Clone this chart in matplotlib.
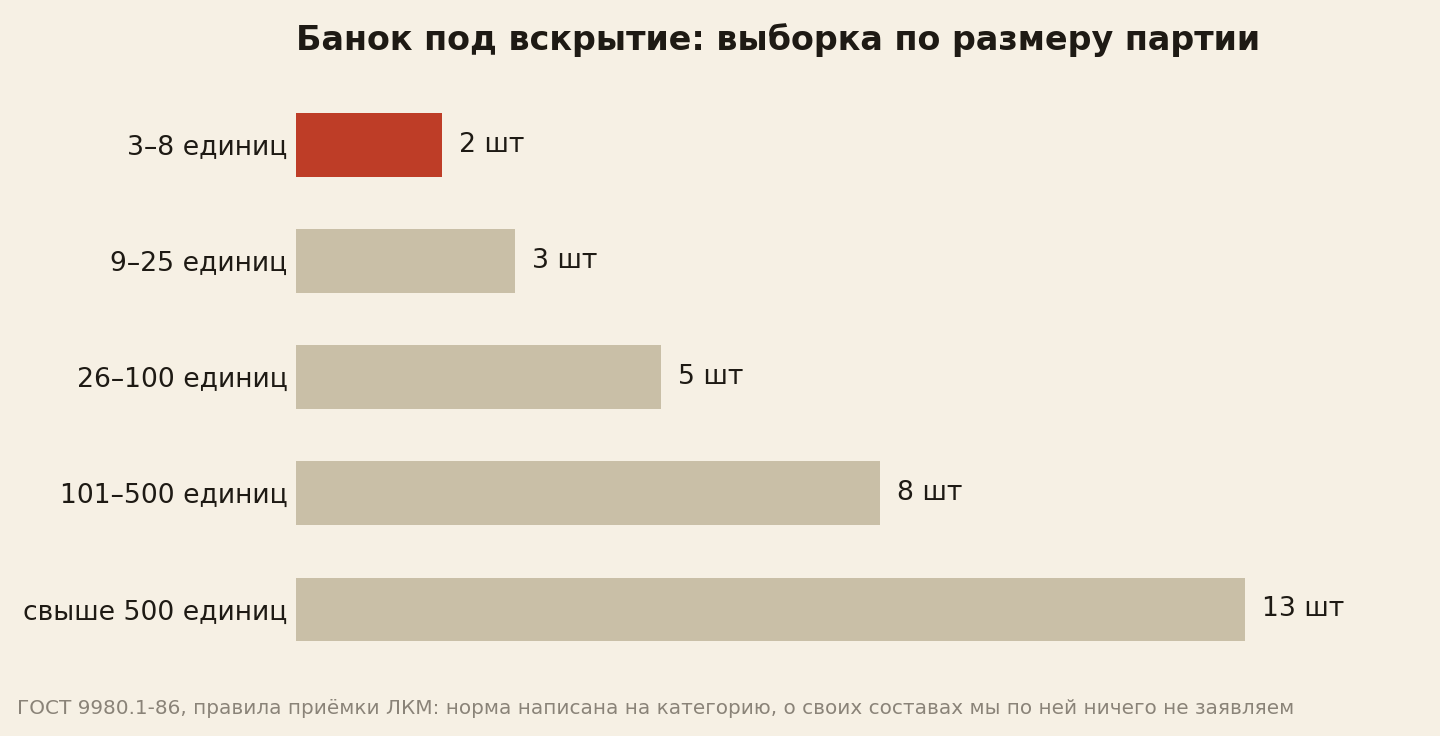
import matplotlib.pyplot as plt

categories = ["3–8 единиц", "9–25 единиц", "26–100 единиц", "101–500 единиц", "свыше 500 единиц"]
counts = [2, 3, 5, 8, 13]
value_labels = ["2 шт", "3 шт", "5 шт", "8 шт", "13 шт"]
highlight = 0

bg = "#F6F0E4"
ink = "#1E1A14"

fig = plt.figure(figsize=(14.4, 7.36), dpi=100, facecolor=bg)
ax = fig.add_axes([296 / 1440, 1 - 667.5 / 736, (1400 - 296) / 1440, 580.5 / 736])
ax.set_facecolor(bg)

colors = ["#BE3D27" if i == highlight else "#C9BFA7" for i in range(len(counts))]
ypos = list(range(len(counts)))
ax.barh(ypos, counts, height=0.55, color=colors)

# value labels just past the end of each bar
for y, v, lab in zip(ypos, counts, value_labels):
    ax.text(v + 0.23, y, lab, va="center", ha="left", fontsize=19.2, color=ink)

ax.set_xlim(0, 1104 / 73)
ax.set_ylim(4.5, -0.5)
ax.set_yticks(ypos)
ax.set_yticklabels(categories, fontsize=19.2, color=ink)
ax.tick_params(axis="y", length=0, pad=6)
ax.set_xticks([])
for s in ax.spines.values():
    s.set_visible(False)

fig.text(296 / 1440, 1 - 40 / 736, "Банок под вскрытие: выборка по размеру партии",
         fontsize=24, fontweight="bold", color=ink, ha="left", va="center")
fig.text(17 / 1440, 1 - 708 / 736,
         "ГОСТ 9980.1-86, правила приёмки ЛКМ: норма написана на категорию, о своих составах мы по ней ничего не заявляем",
         fontsize=14.4, color="#8A8378", ha="left", va="center")

fig.savefig("out.png", dpi=100, facecolor=bg)
